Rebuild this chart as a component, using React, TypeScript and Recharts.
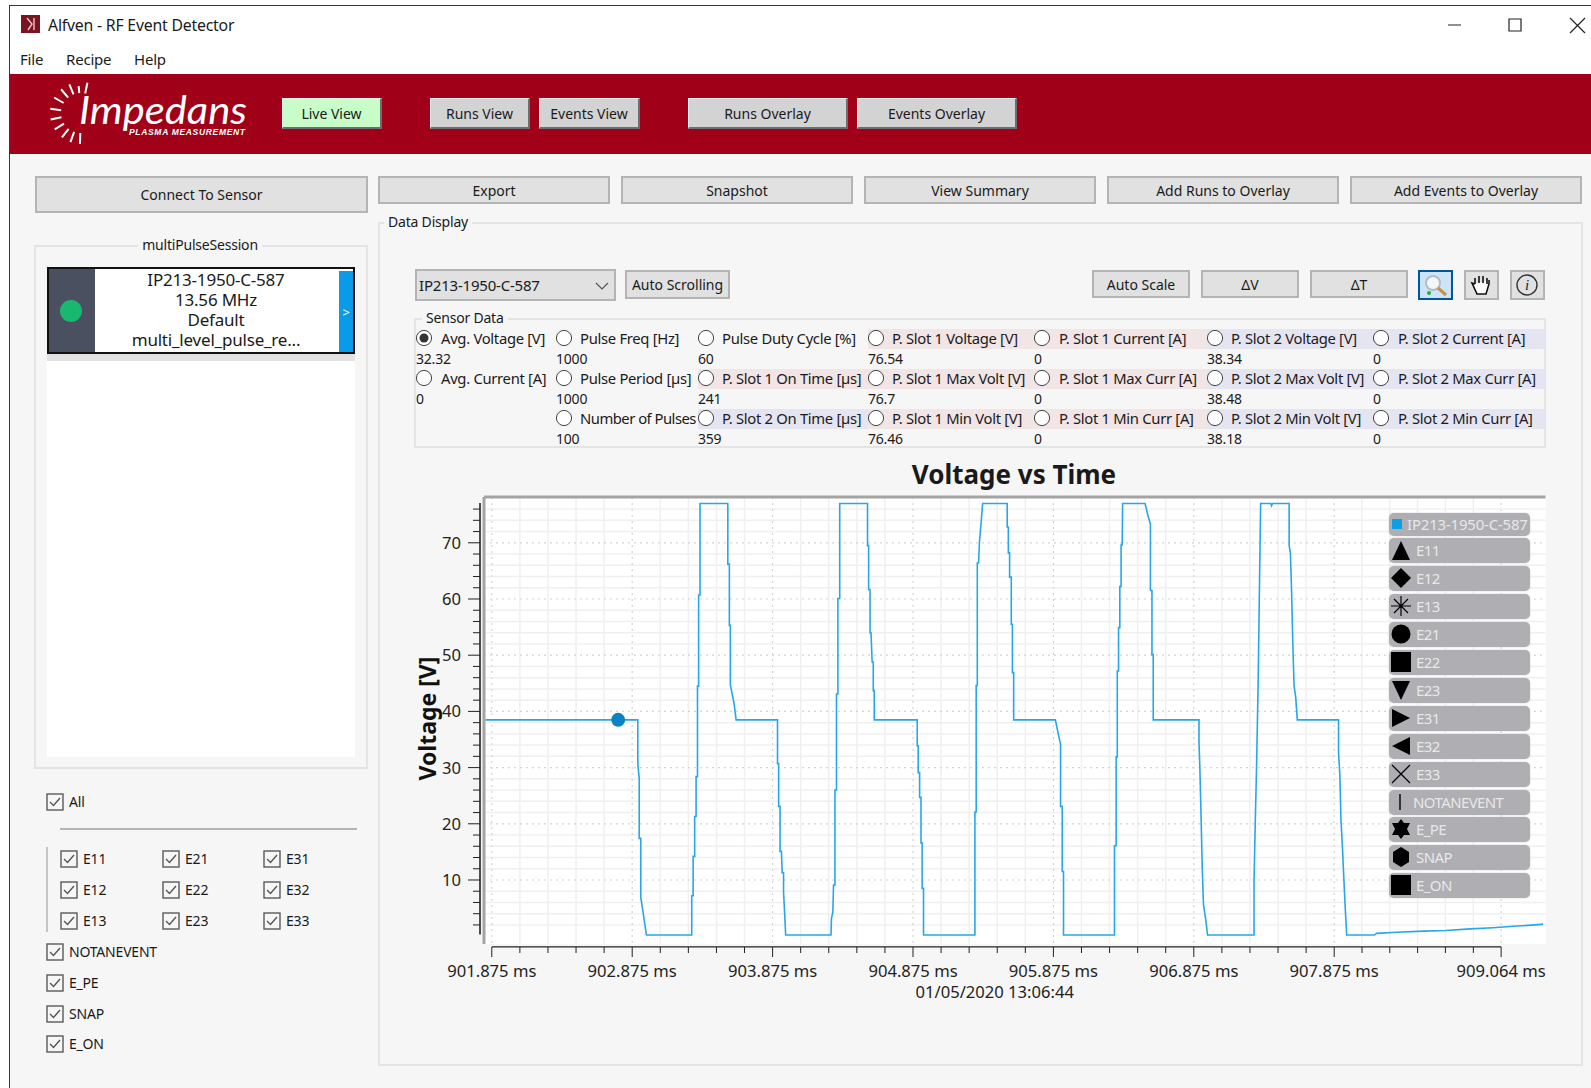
import { ComposedChart, CartesianGrid, Line, XAxis, YAxis, ReferenceDot, ReferenceLine } from 'recharts'

const FONT = '"Noto Sans", sans-serif'

const timeMs = [
    901.83, 902.915, 902.915, 902.925, 902.925, 902.936, 902.936, 902.946, 902.961, 902.976,
    903.299, 903.299, 903.309, 903.309, 903.32, 903.32, 903.33, 903.33, 903.34, 903.34, 903.348, 903.348, 903.358, 903.358,
    903.556, 903.556, 903.567, 903.567, 903.574, 903.574, 903.6, 903.615,
    903.91, 903.91, 903.918, 903.918, 903.928, 903.928, 903.938, 903.943, 903.953, 903.953, 903.961, 903.968,
    904.291, 904.294, 904.304, 904.309, 904.319, 904.319, 904.33, 904.33, 904.34, 904.34, 904.353, 904.353,
    904.551, 904.551, 904.559, 904.559, 904.569, 904.569, 904.576, 904.584, 904.592, 904.592, 904.599, 904.599,
    904.905, 904.905, 904.912, 904.912, 904.922, 904.922, 904.932, 904.932, 904.94, 904.94, 904.95, 904.95,
    905.316, 905.316, 905.325, 905.325, 905.333, 905.333, 905.342, 905.348, 905.357, 905.371,
    905.546, 905.546, 905.554, 905.554, 905.563, 905.563, 905.575, 905.575, 905.583, 905.583, 905.592, 905.592,
    905.889, 905.909, 905.926, 905.926, 905.938, 905.938, 905.947, 905.947,
    906.31, 906.31, 906.322, 906.322, 906.33, 906.33, 906.339, 906.339, 906.348, 906.348, 906.357, 906.357, 906.365, 906.368,
    906.528, 906.548, 906.566, 906.566, 906.577, 906.577, 906.586, 906.586,
    906.912, 906.912, 906.918, 906.926, 906.935, 906.944, 906.961, 906.973,
    907.304, 907.304, 907.313, 907.322, 907.333, 907.342, 907.351,
    907.423, 907.429, 907.435, 907.554, 907.554, 907.563, 907.572, 907.58, 907.589, 907.601, 907.612,
    907.906, 907.906, 907.915, 907.923, 907.935, 907.944, 907.953, 907.964,
    908.162, 908.176, 908.322, 908.511, 908.67, 908.845, 909.005, 909.179, 909.354, 909.363,
]

const voltage = [
    38.5, 38.5, 30.7, 28, 17.4, 17.4, 6.9, 5.3, 2.8, 0.2,
    0.2, 7.2, 7.2, 14.2, 14.2, 21.3, 21.3, 28.4, 28.4, 44.5, 44.5, 60.7, 60.7, 77,
    77, 66.2, 66.2, 55.3, 55.3, 44.7, 41.5, 38.5,
    38.5, 30.7, 30.7, 23.1, 23.1, 15.1, 15.1, 11.3, 11.3, 7.8, 4, 0.2,
    0.2, 3.1, 4.3, 9.1, 9.1, 26, 26, 43.1, 43.1, 60.1, 60.1, 77,
    77, 69.5, 69.5, 61.7, 61.7, 54, 54, 48.8, 48.8, 43.7, 43.7, 38.5,
    38.5, 33.9, 33.9, 29.1, 29.1, 24.7, 24.7, 16.6, 16.6, 8.5, 8.5, 0.2,
    0.2, 22.1, 22.1, 44.6, 44.6, 66.4, 66.4, 70, 72.7, 77,
    77, 72.8, 72.8, 68.2, 68.2, 63.9, 63.9, 55.5, 55.5, 46.9, 46.9, 38.5,
    38.5, 36.1, 34.2, 23.1, 23.1, 11.5, 11.5, 0.2,
    0.2, 16.1, 16.1, 31.9, 31.9, 47.2, 47.2, 54.9, 54.9, 62.2, 62.2, 69.6, 69.6, 77,
    77, 74.9, 73.3, 61.5, 61.5, 50.1, 50.1, 38.5,
    38.5, 34.5, 30.1, 22.1, 12.3, 5.6, 2.8, 0.2,
    0.2, 9.7, 20.5, 30.1, 44.6, 60.9, 77,
    77, 76.6, 77, 77, 69.5, 68.2, 60.9, 52.3, 44.6, 42.5, 38.5,
    38.5, 32.6, 28.8, 20.9, 15.1, 10.1, 5.3, 0.2,
    0.2, 0.5, 0.7, 0.9, 1, 1.3, 1.5, 1.8, 2.1, 2.2,
]

const chartData = timeMs.map((t, i) => ({ t, v: voltage[i] }))

const xMajorTicks = [901.875, 902.875, 903.875, 904.875, 905.875, 906.875, 907.875, 909.064]
const xMinorTicks = [
    902.075, 902.275, 902.475, 902.675, 903.075, 903.275, 903.475, 903.675,
    904.075, 904.275, 904.475, 904.675, 905.075, 905.275, 905.475, 905.675,
    906.075, 906.275, 906.475, 906.675, 907.075, 907.275, 907.475, 907.675,
    908.073, 908.271, 908.469, 908.667, 908.866,
]
const yMajorTicks = [10, 20, 30, 40, 50, 60, 70]
const yMinorTicks = [
    2, 4, 6, 8, 12, 14, 16, 18, 22, 24, 26, 28, 32, 34, 36, 38,
    42, 44, 46, 48, 52, 54, 56, 58, 62, 64, 66, 68, 72, 74, 76,
]
const xDomain = [901.8194, 909.38]
const yDomain = [-1.39, 78.15]
const markerT = 902.775
const markerV = 38.5

const legendNames = ['IP213-1950-C-587', 'E11', 'E12', 'E13', 'E21', 'E22', 'E23', 'E31', 'E32', 'E33', 'NOTANEVENT', 'E_PE', 'SNAP', 'E_ON']
const legendShapes = ['key', 'up', 'diamond', 'star', 'circle', 'square', 'down', 'right', 'left', 'cross', 'bar', 'david', 'hex', 'square']

const sensorRows = [
    [['Avg. Voltage [V]', '32.32'], ['Pulse Freq [Hz]', '1000'], ['Pulse Duty Cycle [%]', '60'], ['P. Slot 1 Voltage [V]', '76.54'], ['P. Slot 1 Current [A]', '0'], ['P. Slot 2 Voltage [V]', '38.34'], ['P. Slot 2 Current [A]', '0']],
    [['Avg. Current [A]', '0'], ['Pulse Period [µs]', '1000'], ['P. Slot 1 On Time [µs]', '241'], ['P. Slot 1 Max Volt [V]', '76.7'], ['P. Slot 1 Max Curr [A]', '0'], ['P. Slot 2 Max Volt [V]', '38.48'], ['P. Slot 2 Max Curr [A]', '0']],
    [null, ['Number of Pulses', '100'], ['P. Slot 2 On Time [µs]', '359'], ['P. Slot 1 Min Volt [V]', '76.46'], ['P. Slot 1 Min Curr [A]', '0'], ['P. Slot 2 Min Volt [V]', '38.18'], ['P. Slot 2 Min Curr [A]', '0']],
]
const sensorColX = [416, 556, 698, 868, 1034, 1207, 1373, 1545]
const sensorTextX = [441, 580, 722, 892, 1059, 1231, 1398]

const PINK = '#f1e5e5'
const BLUE = '#e5e5f1'

function Txt(props: { x: number; y: number; size?: number; w?: number; color?: string; bold?: boolean; children: any; ls?: number }) {
    // y is the vertical centre of the text, w centres it
    return (
        <div style={{
            position: 'absolute', left: props.x, top: props.y - 12, height: 24, lineHeight: '24px',
            width: props.w, textAlign: props.w ? 'center' : 'left', whiteSpace: 'nowrap',
            fontSize: props.size || 14, color: props.color || '#1a1a1a',
            fontWeight: props.bold ? 700 : 400, letterSpacing: props.ls ?? -0.2,
        }}>{props.children}</div>
    )
}

function Box(props: { x0: number; y0: number; x1: number; y1: number; style?: any; children?: any }) {
    return <div style={{ position: 'absolute', left: props.x0, top: props.y0, width: props.x1 - props.x0, height: props.y1 - props.y0, boxSizing: 'border-box', ...props.style }}>{props.children}</div>
}

function Btn(props: { x0: number; y0: number; x1: number; y1: number; label?: string; bg?: string; band?: boolean; children?: any }) {
    const style = props.band
        ? { background: props.bg || '#d3d3d3', borderTop: '1px solid #f0f0f0', borderLeft: '1px solid #f0f0f0', borderRight: '2px solid #6e6e6e', borderBottom: '2px solid #6e6e6e' }
        : { background: props.bg || '#e1e1e1', border: '2px solid #b4b4b4' }
    return (
        <Box x0={props.x0} y0={props.y0} x1={props.x1} y1={props.y1} style={style}>
            {props.label && (
                <div style={{ position: 'absolute', inset: 0, display: 'flex', alignItems: 'center', justifyContent: 'center', fontSize: 14, color: '#1a1a1a', letterSpacing: 0, whiteSpace: 'nowrap' }}>{props.label}</div>
            )}
            {props.children}
        </Box>
    )
}

function Group(props: { x0: number; y0: number; x1: number; y1: number; label: string; lx: number; center?: boolean }) {
    return (
        <>
            <Box x0={props.x0} y0={props.y0} x1={props.x1} y1={props.y1} style={{ border: '2px solid #e4e4e4' }} />
            <div style={{ position: 'absolute', left: props.lx, top: props.y0 - 11, height: 22, lineHeight: '22px', padding: '0 4px', background: '#f6f6f6', fontSize: 14, color: '#1a1a1a', letterSpacing: -0.2, transform: props.center ? 'translateX(-50%)' : undefined, whiteSpace: 'nowrap' }}>{props.label}</div>
        </>
    )
}

function Check(props: { x: number; y: number; label: string }) {
    return (
        <>
            <svg style={{ position: 'absolute', left: props.x, top: props.y }} width={18} height={18}>
                <rect x={1} y={1} width={16} height={16} fill="#f6f6f6" stroke="#5a5a5a" strokeWidth={1.4} />
                <path d="M4 9 L7.5 12.5 L14 5" fill="none" stroke="#555" strokeWidth={1.4} />
            </svg>
            <Txt x={props.x + 23} y={props.y + 9}>{props.label}</Txt>
        </>
    )
}

function Radio(props: { x: number; y: number; on?: boolean }) {
    return (
        <svg style={{ position: 'absolute', left: props.x, top: props.y - 9 }} width={18} height={18}>
            <circle cx={9} cy={9} r={7.6} fill="#fff" stroke="#444" strokeWidth={1} />
            {props.on && <circle cx={9} cy={9} r={4.5} fill="#333" />}
        </svg>
    )
}

function Marker(props: { shape: string }) {
    const s = props.shape
    const d: any = {
        up: 'M10 1 L19 20 L1 20 Z', down: 'M1 1 L19 1 L10 20 Z', right: 'M1 1 L19 10 L1 19 Z', left: 'M19 1 L1 10 L19 19 Z',
        diamond: 'M10 0 L20 10 L10 20 L0 10 Z', square: 'M0 0 H20 V20 H0 Z',
        hex: 'M10 0 L18 5 V15 L10 20 L2 15 V5 Z', david: 'M10 0 L13 4 H19 L16 10 L19 16 H13 L10 20 L7 16 H1 L4 10 L1 4 H7 Z',
    }
    return (
        <svg width={20} height={20} style={{ display: 'block' }}>
            {d[s] && <path d={d[s]} fill="#000" />}
            {s == 'circle' && <circle cx={10} cy={10} r={9.5} fill="#000" />}
            {s == 'star' && <path d="M10 0 V20 M0 10 H20 M3 3 L17 17 M17 3 L3 17" stroke="#000" strokeWidth={1.2} />}
            {s == 'cross' && <path d="M1 1 L19 19 M19 1 L1 19" stroke="#000" strokeWidth={1.2} />}
            {s == 'bar' && <path d="M9 2 V18" stroke="#000" strokeWidth={1.4} />}
        </svg>
    )
}

function ChartLegend() {
    return (
        <>
            {legendNames.map((name, i) => {
                const first = i == 0
                const top = first ? 513 : 513 + i * 28 - (i > 10 ? 4 : 3)
                return (
                    <Box key={name} x0={1389} y0={top} x1={1530} y1={first ? top + 23 : top + 25} style={{ background: '#aeaeb3', borderRadius: 5, boxShadow: '0 0 2px #ccc' }}>
                        {first
                            ? <div style={{ position: 'absolute', left: 3, top: 6, width: 10, height: 10, background: '#0c9fe8' }} />
                            : <div style={{ position: 'absolute', left: 2, top: 2 }}><Marker shape={legendShapes[i]} /></div>}
                        <div style={{ position: 'absolute', left: first ? 18 : name == 'NOTANEVENT' ? 24 : 27, top: 0, height: first ? 23 : 25, lineHeight: first ? '23px' : '25px', color: '#e8e8e8', fontSize: 15, letterSpacing: first ? -0.2 : -0.6, whiteSpace: 'nowrap' }}>{name}</div>
                    </Box>
                )
            })}
        </>
    )
}

function XTick(props: any) {
    const { x, y, payload } = props
    const major = xMajorTicks.includes(payload.value)
    return (
        <g>
            <line x1={x} x2={x} y1={y + 3} y2={y + (major ? 13 : 9)} stroke="#222" strokeWidth={1} />
            {major && <text x={x} y={y + 33} textAnchor="middle" fontSize={16.6} fill="#222" fontFamily={FONT}>{payload.value.toFixed(3)} ms</text>}
        </g>
    )
}

function YTick(props: any) {
    const { x, y, payload } = props
    const major = yMajorTicks.includes(payload.value)
    return (
        <g>
            <line x1={x - 4} x2={x - (major ? 16 : 11)} y1={y} y2={y} stroke="#222" strokeWidth={1} />
            {major && <text x={x - 23} y={y + 6} textAnchor="end" fontSize={16.6} fill="#222" fontFamily={FONT}>{payload.value}</text>}
        </g>
    )
}

function VoltageChart() {
    return (
        <ComposedChart width={1170} height={570} data={chartData} margin={{ left: 24, top: 42, right: 24.5, bottom: 21 }} style={{ position: 'absolute', left: 400, top: 455 }}>
            <CartesianGrid fill="#fff" stroke="#f0f0f0" strokeWidth={1.5}
                horizontalValues={yMinorTicks} verticalValues={xMinorTicks} />
            <CartesianGrid stroke="#d4d4d4" strokeDasharray="2 4" strokeWidth={1.2}
                horizontalValues={yMajorTicks} verticalValues={xMajorTicks} />
            <XAxis dataKey="t" type="number" domain={xDomain} allowDataOverflow ticks={[...xMajorTicks, ...xMinorTicks].sort((a, b) => a - b)}
                interval={0} height={60} axisLine={false} tickLine={false} tickSize={0} tickMargin={0} tick={<XTick />}
                label={{ value: '01/05/2020 13:06:44', position: 'insideBottom', offset: 6, dx: -20, fontSize: 16.6, fill: '#222', fontFamily: FONT }} />
            <YAxis type="number" domain={yDomain} allowDataOverflow ticks={[...yMajorTicks, ...yMinorTicks]} interval={0} width={60}
                axisLine={false} tickLine={false} tickSize={0} tickMargin={0} tick={<YTick />}
                label={{ value: 'Voltage [V]', angle: -90, position: 'insideLeft', dx: -1, dy: 60, fontSize: 23, fontWeight: 700, fill: '#111', fontFamily: FONT }} />
            <ReferenceLine x={xDomain[0]} stroke="#a4a4a4" strokeWidth={3} />
            <ReferenceLine y={yDomain[1]} stroke="#a4a4a4" strokeWidth={3} />
            <ReferenceLine ifOverflow="visible" stroke="#222" strokeWidth={1.2} segment={[{ x: xMajorTicks[0], y: -1.89 }, { x: xMajorTicks[7], y: -1.89 }]} />
            <ReferenceLine ifOverflow="visible" stroke="#222" strokeWidth={1.6} segment={[{ x: 901.791, y: 0.3 }, { x: 901.791, y: 77.1 }]} />
            <Line dataKey="v" type="linear" stroke="#27a8e6" strokeWidth={1.6} dot={false} isAnimationActive={false} />
            <ReferenceDot x={markerT} y={markerV} r={7} fill="#0b82c4" stroke="none" />
        </ComposedChart>
    )
}

function Logo() {
    const rays = [78, 95, 112, 130, 150, 172, 192, 212, 232, 250, 268].map((a) => {
        const r = (a * Math.PI) / 180
        const inner = 20
        const outer = a % 2 == 0 ? 31 : 27
        return `M${81 + inner * Math.cos(r)} ${113 - inner * Math.sin(r)} L${81 + outer * Math.cos(r)} ${113 - outer * Math.sin(r)}`
    })
    return (
        <svg style={{ position: 'absolute', left: 0, top: 74 }} width={300} height={80}>
            <g transform="translate(0,-74)">
                <path d={rays.join(' ')} stroke="#fff" strokeWidth={2} fill="none" />
                <text x={79} y={124} fontSize={38} fontStyle="italic" fontFamily="Lato, sans-serif" fontWeight={400} fill="#fff" textLength={168} lengthAdjust="spacingAndGlyphs">Impedans</text>
                <text x={129} y={135} fontSize={8.5} fontStyle="italic" fontWeight={700} fontFamily="Liberation Sans, sans-serif" fill="#fff" textLength={116}>PLASMA MEASUREMENT</text>
            </g>
        </svg>
    )
}

function SensorTable() {
    return (
        <>
            <Group x0={414} y0={318} x1={1546} y1={448} label="Sensor Data" lx={422} />
            {sensorRows.map((row, r) => row.map((cell, c) => {
                if (!cell) return null
                const rowY = 338 + r * 40
                let band = ''
                if (c >= 5) band = BLUE
                if (c == 3 || c == 4) band = PINK
                if (c == 2 && r == 1) band = PINK
                if (c == 2 && r == 2) band = BLUE
                return (
                    <div key={`${r}-${c}`}>
                        {band && <Box x0={sensorColX[c]} y0={rowY - 9} x1={sensorColX[c + 1]} y1={rowY + 11} style={{ background: band }} />}
                        <Radio x={sensorColX[c] - 1} y={rowY} on={r == 0 && c == 0} />
                        <Txt x={sensorTextX[c]} y={rowY - 0.5} size={14.8} ls={cell[0] == 'Number of Pulses' ? -0.5 : -0.3}>{cell[0]}</Txt>
                        <Txt x={sensorColX[c]} y={rowY + 21} size={14}>{cell[1]}</Txt>
                    </div>
                )
            }))}
        </>
    )
}

export default function App() {
    return (
        <div style={{ position: 'absolute', left: 0, top: 0, width: 1591, height: 1088, background: '#fff', overflow: 'hidden', fontFamily: FONT }}>
            {/* window frame and title bar */}
            <Box x0={9} y0={5} x1={1591} y1={1088} style={{ borderLeft: '1.5px solid #1d3a70', borderTop: '1.5px solid #1d3a70', background: '#fff' }} />
            <svg style={{ position: 'absolute', left: 21, top: 15 }} width={19} height={18}>
                <rect width={19} height={18} fill="#7a1420" />
                <path d="M6 3 L11 9 L7 15 M13 3 V15" stroke="#e8c8c8" strokeWidth={1.4} fill="none" />
            </svg>
            <Txt x={48} y={25} size={15.8}>Alfven - RF Event Detector</Txt>
            <Txt x={20} y={59} size={15}>File</Txt>
            <Txt x={66} y={59} size={15}>Recipe</Txt>
            <Txt x={134} y={59} size={15}>Help</Txt>
            <svg style={{ position: 'absolute', left: 1440, top: 12 }} width={151} height={26}>
                <path d="M8 13 H21 M69 7 H81 V19 H69 Z M130 6 L145 21 M145 6 L130 21" stroke="#222" strokeWidth={1.2} fill="none" />
            </svg>

            {/* red band */}
            <Box x0={10} y0={74} x1={1591} y1={154} style={{ background: '#a00018' }} />
            <Box x0={10} y0={154} x1={1591} y1={1088} style={{ background: '#f6f6f6' }} />
            <Logo />
            <Btn band x0={282} y0={98} x1={382} y1={129} label="Live View" bg="#c8fcc8" />
            <Btn band x0={430} y0={98} x1={530} y1={129} label="Runs View" />
            <Btn band x0={539} y0={98} x1={640} y1={129} label="Events View" />
            <Btn band x0={688} y0={98} x1={848} y1={129} label="Runs Overlay" />
            <Btn band x0={857} y0={98} x1={1017} y1={129} label="Events Overlay" />

            {/* action buttons */}
            <Btn x0={35} y0={176} x1={368} y1={213} label="Connect To Sensor" />
            <Btn x0={378} y0={176} x1={610} y1={204} label="Export" />
            <Btn x0={621} y0={176} x1={853} y1={204} label="Snapshot" />
            <Btn x0={864} y0={176} x1={1096} y1={204} label="View Summary" />
            <Btn x0={1107} y0={176} x1={1339} y1={204} label="Add Runs to Overlay" />
            <Btn x0={1350} y0={176} x1={1582} y1={204} label="Add Events to Overlay" />

            {/* left panel */}
            <Group x0={34} y0={245} x1={368} y1={769} label="multiPulseSession" lx={200} center />
            <Box x0={47} y0={354} x1={355} y1={361} style={{ background: '#e2e2e2' }} />
            <Box x0={47} y0={361} x1={355} y1={757} style={{ background: '#fff' }} />
            <Box x0={47} y0={267} x1={355} y1={354} style={{ background: '#fff', border: '2px solid #111' }} />
            <Box x0={49} y0={269} x1={95} y1={352} style={{ background: '#4a5060' }} />
            <div style={{ position: 'absolute', left: 60, top: 300, width: 22, height: 22, borderRadius: 11, background: '#18b870' }} />
            <Box x0={339} y0={271} x1={353} y1={352} style={{ background: '#0a9be8' }} />
            <Txt x={339} y={312} w={14} color="#fff" size={13}>&gt;</Txt>
            <Txt x={94} y={280} w={244} size={17}>IP213-1950-C-587</Txt>
            <Txt x={94} y={300} w={244} size={17}>13.56 MHz</Txt>
            <Txt x={94} y={320} w={244} size={17}>Default</Txt>
            <Txt x={94} y={340} w={244} size={17}>multi_level_pulse_re...</Txt>

            <Check x={46} y={793} label="All" />
            <Box x0={60} y0={828} x1={357} y1={830} style={{ background: '#b4b4b4' }} />
            <Box x0={46} y0={847} x1={48} y1={932} style={{ background: '#c4c4c4' }} />
            <Check x={60} y={850} label="E11" />
            <Check x={60} y={881} label="E12" />
            <Check x={60} y={912} label="E13" />
            <Check x={162} y={850} label="E21" />
            <Check x={162} y={881} label="E22" />
            <Check x={162} y={912} label="E23" />
            <Check x={263} y={850} label="E31" />
            <Check x={263} y={881} label="E32" />
            <Check x={263} y={912} label="E33" />
            <Check x={46} y={943} label="NOTANEVENT" />
            <Check x={46} y={974} label="E_PE" />
            <Check x={46} y={1005} label="SNAP" />
            <Check x={46} y={1035} label="E_ON" />

            {/* data display */}
            <Group x0={378} y0={222} x1={1583} y1={1066} label="Data Display" lx={384} />
            <Btn x0={415} y0={269} x1={616} y1={301}>
                <Txt x={2} y={14} size={15}>IP213-1950-C-587</Txt>
                <svg style={{ position: 'absolute', left: 178, top: 10 }} width={14} height={10}>
                    <path d="M1 2 L7 8 L13 2" stroke="#555" strokeWidth={1.2} fill="none" />
                </svg>
            </Btn>
            <Btn x0={625} y0={270} x1={730} y1={299} label="Auto Scrolling" />
            <Btn x0={1092} y0={270} x1={1190} y1={298} label="Auto Scale" />
            <Btn x0={1201} y0={270} x1={1299} y1={298} label="ΔV" />
            <Btn x0={1310} y0={270} x1={1408} y1={298} label="ΔT" />
            <Box x0={1418} y0={270} x1={1453} y1={300} style={{ background: '#cce4f7', border: '2px solid #005499' }}>
                <svg width={31} height={26}>
                    <circle cx={13} cy={11} r={7} fill="#f2f6f8" stroke="#b4bcc0" strokeWidth={2} />
                    <path d="M18 16 L26 23" stroke="#c89040" strokeWidth={3} />
                    <circle cx={9} cy={21} r={2} fill="#20b040" />
                </svg>
            </Box>
            <Btn x0={1464} y0={270} x1={1499} y1={300}>
                <svg width={31} height={26}>
                    <path d="M9 12 V6 M13 11 V4 M17 11 V4 M21 12 V6 M9 12 L6 11 L11 22 H20 L23 12 V8" stroke="#111" strokeWidth={1.6} fill="#fff" />
                </svg>
            </Btn>
            <Btn x0={1510} y0={270} x1={1545} y1={300}>
                <svg width={31} height={26}>
                    <circle cx={15} cy={13} r={10} fill="none" stroke="#333" strokeWidth={1.4} />
                    <text x={15} y={18} textAnchor="middle" fontSize={15} fontStyle="italic" fontFamily="Liberation Serif, serif" fill="#222">i</text>
                </svg>
            </Btn>
            <SensorTable />

            <Txt x={814} y={474} w={400} size={26} bold ls={0}>Voltage vs Time</Txt>
            <VoltageChart />
            <ChartLegend />
        </div>
    )
}
